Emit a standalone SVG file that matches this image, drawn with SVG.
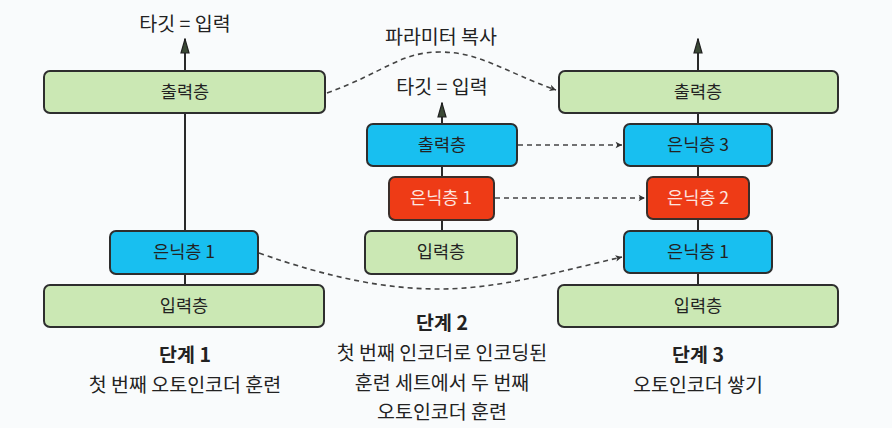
<svg xmlns="http://www.w3.org/2000/svg" width="892" height="428" viewBox="0 0 892 428">
<defs>
<style>
.t{font-family:"Noto Sans CJK KR","Noto Sans",sans-serif;fill:#222;text-anchor:middle}
.lbl{font-size:17.5px}
.cap{font-size:19.5px}
.b{font-weight:bold}
.g{fill:#cbe8b4;stroke:#2e2e2e;stroke-width:2}
.c{fill:#18bff0;stroke:#2e2e2e;stroke-width:2}
.r{fill:#ee3b16;stroke:#3a2e2a;stroke-width:2}
.ln{stroke:#2a2a2a;stroke-width:2;fill:none}
.d{stroke:#444;stroke-width:1.6;fill:none;stroke-dasharray:5 4}
</style>
<marker id="up" viewBox="0 0 16 10" refX="15" refY="5" markerWidth="16" markerHeight="10" markerUnits="userSpaceOnUse" orient="auto">
<path d="M15,5 L1,1 L1,9 Z" fill="#3b4a36" stroke="#222" stroke-width="1.2"/>
</marker>
<marker id="ah" viewBox="0 0 10 10" refX="9" refY="5" markerWidth="8" markerHeight="8" markerUnits="userSpaceOnUse" orient="auto">
<path d="M1,1 L9,5 L1,9 L3,5 Z" fill="#333"/>
</marker>
</defs>
<rect width="892" height="428" fill="#f9fbfc"/>

<g id="connectors">
<line class="ln" x1="185" y1="71" x2="185" y2="39" marker-end="url(#up)"/>
<line class="ln" x1="185" y1="113" x2="185" y2="230"/>
<line class="ln" x1="185" y1="274" x2="185" y2="285"/>
<line class="ln" x1="442" y1="124" x2="442" y2="103" marker-end="url(#up)"/>
<line class="ln" x1="442" y1="166" x2="442" y2="177"/>
<line class="ln" x1="442" y1="220" x2="442" y2="231"/>
<line class="ln" x1="698" y1="71" x2="698" y2="39" marker-end="url(#up)"/>
<line class="ln" x1="698" y1="113" x2="698" y2="124"/>
<line class="ln" x1="698" y1="166" x2="698" y2="177"/>
<line class="ln" x1="698" y1="219" x2="698" y2="231"/>
<line class="ln" x1="698" y1="273" x2="698" y2="285"/>
<path class="d" d="M327,93 C385,72 400,52 440,52 C480,52 505,72 556,90" marker-end="url(#ah)"/>
<path class="d" d="M518,145 L622,145" marker-end="url(#ah)"/>
<path class="d" d="M495,198 L645,198" marker-end="url(#ah)"/>
<path class="d" d="M259,253 C330,278 385,289 440,289 C500,289 565,270 622,257" marker-end="url(#ah)"/>
</g>

<g id="step1-output"><rect class="g" x="44" y="71" width="281" height="42" rx="6"/><text class="t lbl" x="185" y="98">출력층</text></g>
<g id="step1-hidden1"><rect class="c" x="110" y="231" width="148" height="43" rx="6"/><text class="t lbl" x="184" y="258">은닉층 1</text></g>
<g id="step1-input"><rect class="g" x="44" y="285" width="280" height="42" rx="6"/><text class="t lbl" x="184" y="312">입력층</text></g>

<g id="step2-output"><rect class="c" x="367" y="124" width="150" height="42" rx="6"/><text class="t lbl" x="442" y="151">출력층</text></g>
<g id="step2-hidden1"><rect class="r" x="389" y="177" width="105" height="43" rx="6"/><text class="t lbl" x="441" y="204" style="fill:#fde6e0">은닉층 1</text></g>
<g id="step2-input"><rect class="g" x="365" y="231" width="152" height="43" rx="6"/><text class="t lbl" x="441" y="258">입력층</text></g>

<g id="step3-output"><rect class="g" x="559" y="71" width="279" height="42" rx="6"/><text class="t lbl" x="698" y="98">출력층</text></g>
<g id="step3-hidden3"><rect class="c" x="624" y="124" width="148" height="42" rx="6"/><text class="t lbl" x="698" y="151">은닉층 3</text></g>
<g id="step3-hidden2"><rect class="r" x="647" y="177" width="102" height="42" rx="6"/><text class="t lbl" x="698" y="204" style="fill:#fde6e0">은닉층 2</text></g>
<g id="step3-hidden1"><rect class="c" x="624" y="231" width="148" height="42" rx="6"/><text class="t lbl" x="698" y="258">은닉층 1</text></g>
<g id="step3-input"><rect class="g" x="558" y="285" width="280" height="42" rx="6"/><text class="t lbl" x="698" y="312">입력층</text></g>

<g id="labels">
<text class="t cap" x="185" y="31">타깃 = 입력</text>
<text class="t cap" x="441" y="44">파라미터 복사</text>
<text class="t cap" x="442" y="94">타깃 = 입력</text>
<text class="t cap b" x="185" y="362">단계 1</text>
<text class="t cap" x="185" y="392">첫 번째 오토인코더 훈련</text>
<text class="t cap b" x="442" y="330">단계 2</text>
<text class="t cap" x="442" y="360">첫 번째 인코더로 인코딩된</text>
<text class="t cap" x="442" y="390">훈련 세트에서 두 번째</text>
<text class="t cap" x="442" y="419">오토인코더 훈련</text>
<text class="t cap b" x="698" y="362">단계 3</text>
<text class="t cap" x="698" y="392">오토인코더 쌓기</text>
</g>
</svg>
